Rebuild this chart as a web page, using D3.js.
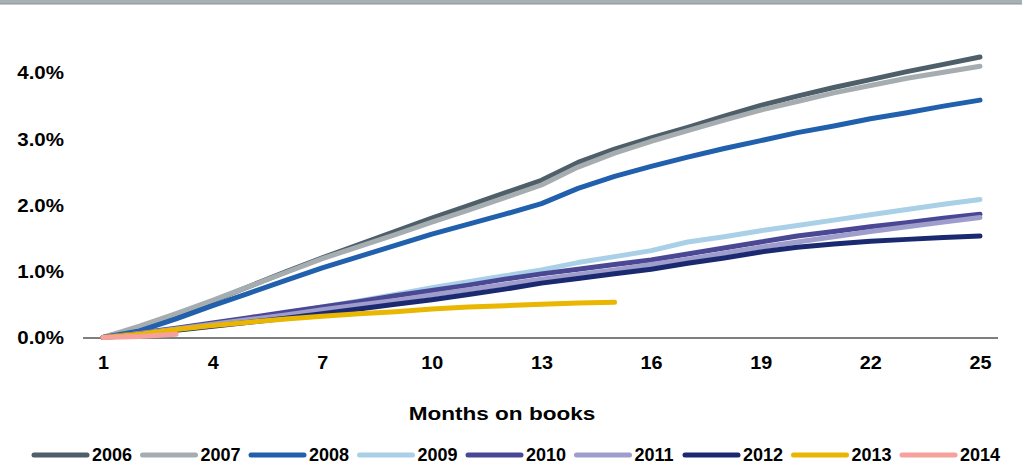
<!DOCTYPE html>
<html>
<head>
<meta charset="utf-8">
<script src="https://cdn.jsdelivr.net/npm/d3@7"></script>
<style>
  html, body { margin: 0; padding: 0; background: #fff; }
  svg { display: block; }
  text { font-family: "Liberation Sans", Arial, sans-serif; font-weight: bold; fill: #000; }
</style>
</head>
<body>
<svg id="chart" width="1022" height="464"></svg>
<script>
// Cumulative loss rate (%) by months on books, one curve per vintage year
const months = d3.range(1, 26);
const vintages = ["2006", "2007", "2008", "2009", "2010", "2011", "2012", "2013", "2014"];
const colors = ["#4e5f69", "#a6adb1", "#2160ac", "#a9d0e6", "#4a4895", "#9e9dcb", "#1b2a70", "#e9b602", "#f6a19c"];

const v2006 = [0, 0.15, 0.34, 0.55, 0.77, 0.99, 1.2, 1.4, 1.6, 1.8, 1.99, 2.18, 2.37, 2.64, 2.84, 3.01, 3.17, 3.34, 3.5, 3.64, 3.77, 3.89, 4.01, 4.12, 4.23];
const v2007 = [0, 0.17, 0.36, 0.56, 0.77, 0.98, 1.19, 1.37, 1.55, 1.74, 1.92, 2.11, 2.3, 2.57, 2.78, 2.96, 3.12, 3.28, 3.43, 3.56, 3.69, 3.8, 3.91, 4.0, 4.09];
const v2008 = [0, 0.1, 0.28, 0.48, 0.67, 0.86, 1.05, 1.22, 1.39, 1.56, 1.71, 1.86, 2.02, 2.25, 2.43, 2.58, 2.72, 2.85, 2.97, 3.09, 3.19, 3.3, 3.39, 3.49, 3.58];
const v2009 = [0, 0.05, 0.12, 0.2, 0.28, 0.37, 0.46, 0.55, 0.65, 0.75, 0.84, 0.93, 1.02, 1.13, 1.22, 1.31, 1.44, 1.52, 1.61, 1.69, 1.77, 1.85, 1.93, 2.01, 2.08];
const v2010 = [0, 0.07, 0.14, 0.22, 0.3, 0.38, 0.46, 0.54, 0.63, 0.71, 0.79, 0.88, 0.96, 1.03, 1.1, 1.17, 1.26, 1.35, 1.44, 1.53, 1.6, 1.67, 1.73, 1.8, 1.86];
const v2011 = [0, 0.06, 0.13, 0.2, 0.27, 0.34, 0.42, 0.49, 0.56, 0.64, 0.72, 0.8, 0.88, 0.95, 1.02, 1.1, 1.18, 1.27, 1.36, 1.44, 1.52, 1.6, 1.67, 1.74, 1.81];
const v2012 = [0, 0.05, 0.11, 0.17, 0.23, 0.29, 0.36, 0.43, 0.5, 0.57, 0.65, 0.73, 0.82, 0.89, 0.96, 1.03, 1.12, 1.2, 1.29, 1.36, 1.41, 1.45, 1.48, 1.51, 1.53];
const v2013 = [0, 0.05, 0.12, 0.18, 0.23, 0.28, 0.32, 0.36, 0.39, 0.43, 0.46, 0.48, 0.5, 0.52, 0.53];
const v2014 = [0, 0.015, 0.05];
const seriesValues = [v2006, v2007, v2008, v2009, v2010, v2011, v2012, v2013, v2014];

const xTickValues = [1, 4, 7, 10, 13, 16, 19, 22, 25];
const yTickValues = [0, 1, 2, 3, 4];
const xTitle = "Months on books";

const svg = d3.select("#chart");

// thin grey band along the top edge
svg.append("rect").attr("x", 0).attr("y", 0).attr("width", 1022).attr("height", 4).attr("fill", "#a9b0b3");
svg.append("line").attr("x1", 0).attr("x2", 1022).attr("y1", 4).attr("y2", 4)
  .attr("stroke", "#8a969a").attr("stroke-width", 1.2);

const x = d3.scaleLinear().domain([1, 25]).range([103, 980]);
const y = d3.scaleLinear().domain([0, 4]).range([337.5, 72.3]);

// y axis labels (no domain line)
const yAxis = svg.append("g").attr("transform", "translate(64,0)")
  .call(d3.axisLeft(y).tickValues(yTickValues).tickSize(0).tickPadding(0)
    .tickFormat(d => d3.format(".1f")(d) + "%"));
yAxis.select(".domain").remove();
yAxis.selectAll("text").attr("font-size", 18).attr("font-family", null)
  .attr("transform", "scale(1.14,1)").attr("dy", "0.36em");

// x axis labels
const xAxis = svg.append("g").attr("transform", "translate(0,356)")
  .call(d3.axisBottom(x).tickValues(xTickValues).tickSize(0).tickPadding(0));
xAxis.select(".domain").remove();
xAxis.selectAll("text").attr("font-size", 18).attr("font-family", null)
  .attr("transform", "scale(1.1,1)").attr("dy", "0.71em");

// baseline
svg.append("line").attr("x1", 83).attr("x2", 998).attr("y1", y(0) + 0.5).attr("y2", y(0) + 0.5)
  .attr("stroke", "#000").attr("stroke-width", 1.2);

// axis title
svg.append("g").attr("transform", "translate(502,420)")
  .append("text").attr("text-anchor", "middle").attr("font-size", 18.5)
  .attr("transform", "scale(1.22,1)").text(xTitle);

// lines
const line = d3.line().x((d, i) => x(months[i])).y(d => y(d));
svg.append("g").selectAll("path").data(seriesValues).join("path")
  .attr("d", line)
  .attr("fill", "none")
  .attr("stroke", (d, i) => colors[i])
  .attr("stroke-width", 5)
  .attr("stroke-linejoin", "round")
  .attr("stroke-linecap", "round");

// legend
const legend = svg.append("g").attr("transform", "translate(0,455)");
const item = legend.selectAll("g").data(vintages).join("g")
  .attr("transform", (d, i) => `translate(${34 + i * 108.5},0)`);
item.append("line").attr("x1", 0).attr("x2", 53).attr("y1", 0).attr("y2", 0)
  .attr("stroke", (d, i) => colors[i]).attr("stroke-width", 5).attr("stroke-linecap", "round");
item.append("text").attr("x", 58).attr("font-size", 18).attr("dy", "0.36em").text(d => d);
</script>
</body>
</html>
